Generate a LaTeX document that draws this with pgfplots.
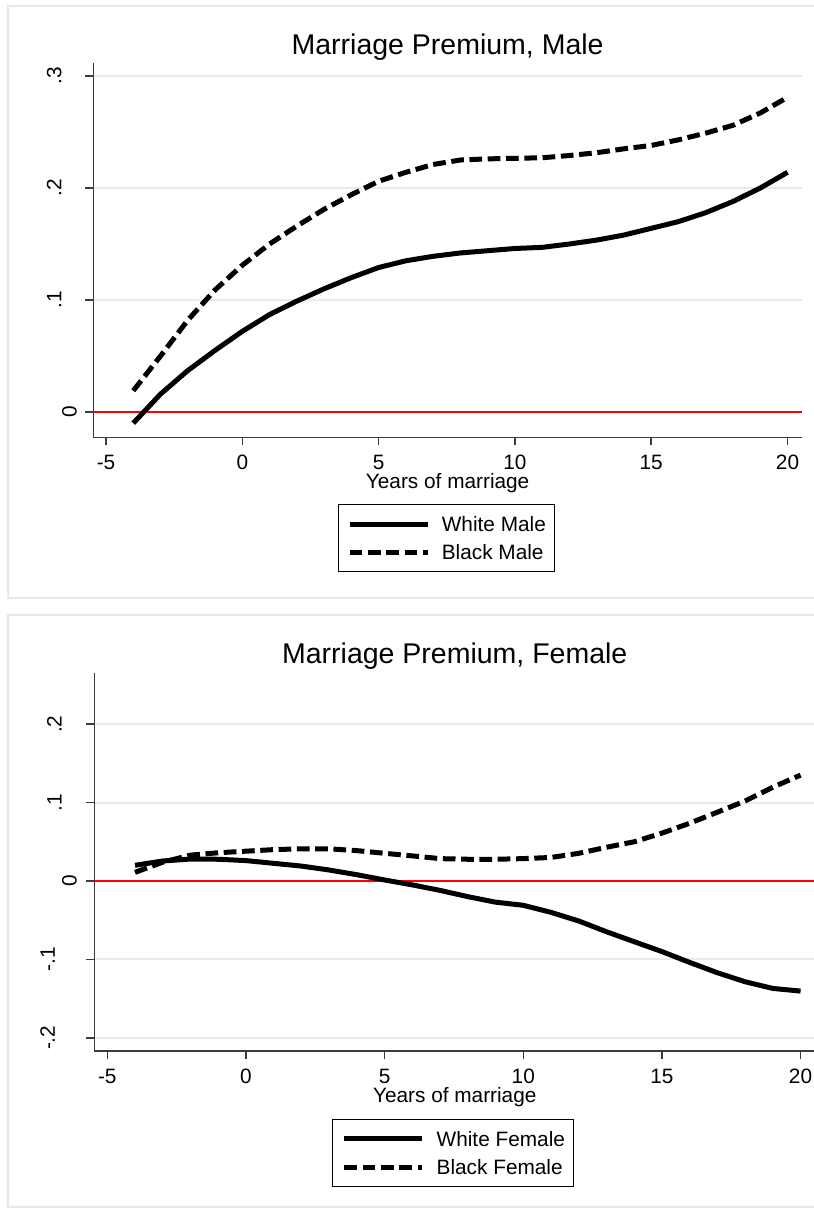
\documentclass[border=0pt]{standalone}
\usepackage{fontspec}
\setmainfont{Liberation Sans}
\usepackage{pgfplots}
\pgfplotsset{compat=1.18}
\definecolor{gridgray}{RGB}{234,234,234}
\definecolor{framegray}{RGB}{232,232,232}
\definecolor{axgray}{RGB}{60,60,60}
\newcommand{\sm}{\fontsize{20.8}{25}\selectfont}
\newcommand{\yl}[2]{\raisebox{#1pt}[40pt][0pt]{#2}}
\pgfplotsset{
  stata/.style={
    scale only axis,
    axis x line*=bottom, axis y line*=left,
    axis line style={-, draw=axgray, line width=1.5pt},
    tick align=outside, major tick length=8pt,
    tick style={axgray, line width=1.5pt},
    xtick pos=bottom, ytick pos=left,
    ymajorgrids, grid style={gridgray, line width=2pt},
    xtick={-5,0,5,10,15,20},
    xticklabels={-5,0,5,10,15,20},
    xticklabel style={font=\sm, anchor=base, inner sep=0pt, yshift=-24pt},
    yticklabel style={font=\sm, rotate=90, anchor=base, inner sep=0pt},
    title style={font=\fontsize{28.5}{34}\selectfont, at={(axis description cs:0.5,1)}, anchor=base, inner sep=0pt},
    xlabel style={font=\sm, at={(axis description cs:0.5,0)}, anchor=base, inner sep=0pt, yshift=-51pt},
    legend style={draw=black, line width=1pt, inner xsep=9pt, inner ysep=12pt,
      font=\sm, nodes={inner sep=0pt, text height=15pt, text depth=0pt},
      row sep=13.3pt, /tikz/every odd column/.append style={column sep=11.7pt}},
    legend cell align=left,
    legend image code/.code={\draw[##1] (0pt,0pt) -- (78pt,0pt);},
  },
  solidc/.style={black, line width=5pt, line join=round},
  dashc/.style={black, line width=5pt, line join=round, dash pattern=on 12.7pt off 5.6pt},
}
\begin{document}
\begin{tikzpicture}[x=1pt,y=1pt]
\useasboundingbox (0,0) rectangle (814,-1211);
\fill[white] (0,0) rectangle (814,-1211);
\draw[framegray, line width=2pt, fill=white] (8,-6) rectangle (830,-598);
\draw[framegray, line width=2pt, fill=white] (8,-615) rectangle (830,-1207);

\begin{axis}[stata,
  at={(93.3pt,-437.3pt)}, anchor=south west,
  width=708.7pt, height=374.3pt,
  xmin=-5.466, xmax=20.53, ymin=-0.0226, ymax=0.3116,
  ytick={0,0.1,0.2,0.3},
  yticklabels={\yl{8.6}{0},\yl{23.8}{.1},\yl{23.8}{.2},\yl{23.8}{.3}},
  title={Marriage Premium, Male}, title style={yshift=2.7pt},
  xlabel={Years of marriage},
  legend style={at={(axis description cs:0.4984,-0.1782)}, anchor=north},
]
\addplot[red, line width=2.5pt, forget plot] coordinates {(-5.466,0) (20.53,0)};
\addplot[solidc] coordinates {
(-4,-0.010) (-3,0.016) (-2,0.037) (-1,0.055) (0,0.072) (1,0.087) (2,0.099)
(3,0.110) (4,0.120) (5,0.129) (6,0.135) (7,0.139) (8,0.142) (9,0.144)
(10,0.146) (11,0.147) (12,0.150) (13,0.1535) (14,0.158) (15,0.164)
(16,0.170) (17,0.178) (18,0.188) (19,0.200) (20,0.214)};
\addplot[dashc] coordinates {
(-4,0.019) (-3,0.050) (-2,0.082) (-1,0.109) (0,0.131) (1,0.150) (2,0.166)
(3,0.181) (4,0.194) (5,0.206) (6,0.214) (7,0.221) (8,0.225) (9,0.226)
(10,0.2265) (11,0.227) (12,0.229) (13,0.2315) (14,0.235) (15,0.238)
(16,0.243) (17,0.249) (18,0.256) (19,0.267) (20,0.281)};
\legend{White Male, Black Male}
\end{axis}

\begin{axis}[stata,
  at={(94.3pt,-1051pt)}, anchor=south west,
  width=720.96pt, height=377.7pt,
  xmin=-5.469, xmax=20.53, ymin=-0.2168, ymax=0.2648,
  ytick={-0.2,-0.1,0,0.1,0.2},
  yticklabels={\yl{31.3}{-.2},\yl{31.3}{-.1},\yl{9.6}{0},\yl{24.6}{.1},\yl{24.6}{.2}},
  title={Marriage Premium, Female}, title style={yshift=4pt},
  xlabel={Years of marriage},
  legend style={at={(axis description cs:0.4982,-0.180)}, anchor=north},
]
\addplot[red, line width=2.5pt, forget plot] coordinates {(-5.469,0) (20.53,0)};
\addplot[solidc] coordinates {
(-4,0.020) (-3,0.0255) (-2,0.028) (-1,0.0277) (0,0.026) (1,0.0225) (2,0.019)
(3,0.014) (4,0.008) (5,0.0013) (6,-0.005) (7,-0.012) (8,-0.020) (9,-0.027)
(10,-0.031) (11,-0.040) (12,-0.051) (13,-0.0647) (14,-0.0774) (15,-0.090)
(16,-0.1038) (17,-0.117) (18,-0.1285) (19,-0.137) (20,-0.1404)};
\addplot[dashc] coordinates {
(-4,0.011) (-3,0.024) (-2,0.033) (-1,0.036) (0,0.038) (1,0.040) (2,0.041)
(3,0.041) (4,0.0387) (5,0.0353) (6,0.032) (7,0.0285) (8,0.0277) (9,0.0277)
(10,0.0285) (11,0.030) (12,0.0353) (13,0.043) (14,0.050) (15,0.061)
(16,0.0736) (17,0.0877) (18,0.102) (19,0.1196) (20,0.135)};
\legend{White Female, Black Female}
\end{axis}
\end{tikzpicture}
\end{document}
